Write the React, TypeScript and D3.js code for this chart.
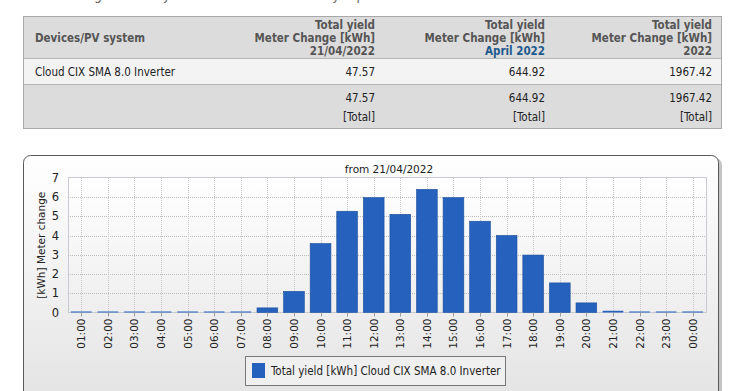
import React, { useEffect, useRef } from 'react';
import * as d3 from 'd3';

const hours = ['01:00', '02:00', '03:00', '04:00', '05:00', '06:00', '07:00', '08:00', '09:00', '10:00', '11:00', '12:00',
    '13:00', '14:00', '15:00', '16:00', '17:00', '18:00', '19:00', '20:00', '21:00', '22:00', '23:00', '00:00'];
const yieldValues = [0.02, 0.02, 0.02, 0.02, 0.02, 0.02, 0.02, 0.24, 1.1, 3.59, 5.27, 5.98,
    5.11, 6.41, 5.98, 4.75, 4.01, 2.99, 1.54, 0.5, 0.09, 0.01, 0.01, 0.01];
const yTicks = [0, 1, 2, 3, 4, 5, 6, 7];

const headerCols = [
    { lines: ['Total yield', 'Meter Change [kWh]', '21/04/2022'], right: 375 },
    { lines: ['Total yield', 'Meter Change [kWh]', 'April 2022'], right: 545 },
    { lines: ['Total yield', 'Meter Change [kWh]', '2022'], right: 712 },
];
const deviceName = 'Cloud CIX SMA 8.0 Inverter';
const rowValues = ['47.57', '644.92', '1967.42'];
const totalValues = ['47.57', '644.92', '1967.42'];
const chartTitle = 'from 21/04/2022';
const yLabel = '[kWh] Meter change';
const legendLabel = 'Total yield [kWh] Cloud CIX SMA 8.0 Inverter';

const tableFont = '"DejaVu Sans Condensed", "Liberation Sans Narrow", sans-serif';
const chartFont = '"DejaVu Sans", sans-serif';

const App = () => {
    const ref = useRef<SVGSVGElement>(null);

    useEffect(() => {
        const svg = d3.select(ref.current);
        svg.selectAll('*').remove();

        const defs = svg.append('defs');
        const frameGrad = defs.append('linearGradient').attr('id', 'frameGrad')
            .attr('x1', 0).attr('y1', 0).attr('x2', 0).attr('y2', 1);
        frameGrad.append('stop').attr('offset', '0%').attr('stop-color', '#ffffff');
        frameGrad.append('stop').attr('offset', '100%').attr('stop-color', '#e2e2e2');
        const plotGrad = defs.append('linearGradient').attr('id', 'plotGrad')
            .attr('x1', 0).attr('y1', 0).attr('x2', 0).attr('y2', 1);
        plotGrad.append('stop').attr('offset', '0%').attr('stop-color', '#ffffff');
        plotGrad.append('stop').attr('offset', '100%').attr('stop-color', '#eeeeee');

        // heading, mostly scrolled out of view
        svg.append('text')
            .attr('x', 23).attr('y', 0)
            .attr('font-family', tableFont).attr('font-size', 14).attr('fill', '#666')
            .text('Meter change of total yield - Overview of the daily report');

        // table
        const table = svg.append('g');
        table.append('rect').attr('x', 23.5).attr('y', 16.5).attr('width', 698).attr('height', 112)
            .attr('fill', '#dcdcdc').attr('stroke', '#a8a8a8');
        table.append('rect').attr('x', 24).attr('y', 58.5).attr('width', 697).attr('height', 26)
            .attr('fill', '#f3f3f3');
        table.append('line').attr('x1', 24).attr('x2', 721).attr('y1', 58.5).attr('y2', 58.5).attr('stroke', '#b4b4b4');
        table.append('line').attr('x1', 24).attr('x2', 721).attr('y1', 84.5).attr('y2', 84.5).attr('stroke', '#b4b4b4');

        table.append('text').attr('x', 35).attr('y', 42)
            .attr('font-family', tableFont).attr('font-size', 11.5).attr('font-weight', 'bold').attr('fill', '#555')
            .text('Devices/PV system');

        headerCols.forEach((col, ci) => {
            col.lines.forEach((ln, i) => {
                table.append('text')
                    .attr('x', col.right).attr('y', 29 + i * 13)
                    .attr('text-anchor', 'end')
                    .attr('font-family', tableFont).attr('font-size', 11.5).attr('font-weight', 'bold')
                    .attr('fill', ci === 1 && i === 2 ? '#1c5a8e' : '#555')
                    .text(ln);
            });
            table.append('text').attr('x', col.right).attr('y', 76)
                .attr('text-anchor', 'end').attr('font-family', tableFont).attr('font-size', 11.5).attr('fill', '#222')
                .text(rowValues[ci]);
            table.append('text').attr('x', col.right).attr('y', 102)
                .attr('text-anchor', 'end').attr('font-family', tableFont).attr('font-size', 11.5).attr('fill', '#222')
                .text(totalValues[ci]);
            table.append('text').attr('x', col.right).attr('y', 121)
                .attr('text-anchor', 'end').attr('font-family', tableFont).attr('font-size', 11.5).attr('fill', '#222')
                .text('[Total]');
        });
        table.append('text').attr('x', 35).attr('y', 76)
            .attr('font-family', tableFont).attr('font-size', 11.5).attr('fill', '#222')
            .text(deviceName);

        // chart frame
        svg.append('rect').attr('x', 26).attr('y', 158).attr('width', 696).attr('height', 260).attr('rx', 7)
            .attr('fill', '#c4c4c4');
        svg.append('rect').attr('x', 23.5).attr('y', 155.5).attr('width', 695).attr('height', 260).attr('rx', 7)
            .attr('fill', 'url(#frameGrad)').attr('stroke', '#5a5a5a');

        svg.append('text').attr('x', 389).attr('y', 173).attr('text-anchor', 'middle')
            .attr('font-family', chartFont).attr('font-size', 10.5).attr('fill', '#222')
            .text(chartTitle);

        const plot = { left: 68, right: 706, top: 178, bottom: 312.5 };

        const x = d3.scaleBand()
            .domain(hours)
            .range([plot.left, plot.right])
            .paddingInner(0.22)
            .paddingOuter(0.11);

        const y = d3.scaleLinear()
            .domain([0, 7])
            .range([plot.bottom, plot.top]);

        svg.append('rect').attr('x', plot.left + 0.5).attr('y', plot.top - 0.5)
            .attr('width', plot.right - plot.left).attr('height', plot.bottom - plot.top + 0.5)
            .attr('fill', 'url(#plotGrad)').attr('stroke', '#c9c9d4');

        // grid
        const grid = svg.append('g');
        grid.selectAll('.hgrid')
            .data(yTicks.filter(d => d > 0 && d < 7))
            .enter().append('line')
            .attr('x1', plot.left).attr('x2', plot.right)
            .attr('y1', d => Math.round(y(d)) + 0.5).attr('y2', d => Math.round(y(d)) + 0.5)
            .attr('stroke', '#bdbdbd').attr('stroke-dasharray', '1,1');
        grid.selectAll('.vgrid')
            .data(hours)
            .enter().append('line')
            .attr('x1', d => Math.round(x(d)! + x.bandwidth() / 2) + 0.5)
            .attr('x2', d => Math.round(x(d)! + x.bandwidth() / 2) + 0.5)
            .attr('y1', plot.top).attr('y2', plot.bottom)
            .attr('stroke', '#c8c8c8').attr('stroke-dasharray', '1,1');

        // bars
        svg.selectAll('.bar')
            .data(hours.map((h, i) => ({ h, v: yieldValues[i] })))
            .enter().append('rect')
            .attr('x', d => x(d.h)!)
            .attr('y', d => Math.min(y(d.v), plot.bottom - 1))
            .attr('width', x.bandwidth())
            .attr('height', d => Math.max(1, plot.bottom - y(d.v)))
            .attr('fill', '#2561bd')
            .attr('stroke', d => (d.v > 0.1 ? '#1b4f9c' : 'none'))
            .attr('stroke-width', 0.6);

        // y axis labels
        svg.selectAll('.ytick')
            .data(yTicks)
            .enter().append('text')
            .attr('x', 59).attr('y', d => y(d) + 4)
            .attr('text-anchor', 'end')
            .attr('font-family', chartFont).attr('font-size', 11.5).attr('fill', '#222')
            .text(d => d);

        svg.append('text')
            .attr('transform', `translate(45,${(plot.top + plot.bottom) / 2}) rotate(-90)`)
            .attr('text-anchor', 'middle')
            .attr('font-family', chartFont).attr('font-size', 10.5).attr('fill', '#222')
            .text(yLabel);

        // x axis ticks + labels
        svg.selectAll('.xtick')
            .data(hours)
            .enter().append('line')
            .attr('x1', d => Math.round(x(d)! + x.bandwidth() / 2) + 0.5)
            .attr('x2', d => Math.round(x(d)! + x.bandwidth() / 2) + 0.5)
            .attr('y1', plot.bottom).attr('y2', plot.bottom + 4)
            .attr('stroke', '#9a9a9a');

        svg.selectAll('.xlabel')
            .data(hours)
            .enter().append('text')
            .attr('transform', d => `translate(${x(d)! + x.bandwidth() / 2 + 4},${plot.bottom + 6}) rotate(-90)`)
            .attr('text-anchor', 'end')
            .attr('font-family', chartFont).attr('font-size', 10.5).attr('fill', '#222')
            .text(d => d);

        // legend
        const legend = svg.append('g');
        legend.append('rect').attr('x', 245.5).attr('y', 356.5).attr('width', 260).attr('height', 29)
            .attr('fill', '#f0f0f0').attr('stroke', '#777');
        legend.append('rect').attr('x', 252).attr('y', 363).attr('width', 13).attr('height', 15)
            .attr('fill', '#2561bd');
        legend.append('text').attr('x', 271).attr('y', 375)
            .attr('font-family', tableFont).attr('font-size', 11.5).attr('fill', '#222')
            .text(legendLabel);
    }, []);

    return (
        <svg ref={ref} width={746} height={391}
            style={{ position: 'fixed', left: 0, top: 0, background: '#fff' }} />
    );
};

export default App;
